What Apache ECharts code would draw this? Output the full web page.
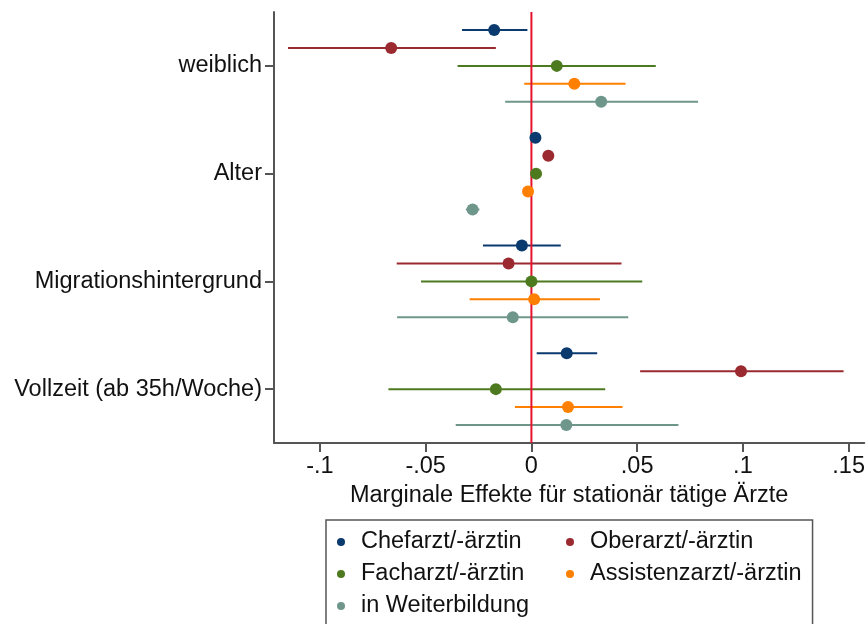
<!DOCTYPE html>
<html>
<head>
<meta charset="utf-8">
<script src="https://cdn.jsdelivr.net/npm/echarts@6/dist/echarts.min.js"></script>
<style>
  html, body { margin: 0; padding: 0; background: #fff; }
  #chart { width: 868px; height: 624px; }
</style>
</head>
<body>
<div id="chart"></div>
<script>
// Covariates shown on the vertical axis (top to bottom)
var categories = ['weiblich', 'Alter', 'Migrationshintergrund', 'Vollzeit (ab 35h/Woche)'];

// Physician groups (one series each)
var roles = ['Chefarzt/-ärztin', 'Oberarzt/-ärztin', 'Facharzt/-ärztin', 'Assistenzarzt/-ärztin', 'in Weiterbildung'];

// Marginal effects per covariate (same order as categories)
var chefEst = [-0.0176, 0.0019, -0.0045, 0.0167];
var chefLo  = [-0.0328, 0.0004, -0.0229, 0.0025];
var chefHi  = [-0.0019, 0.0034,  0.0139, 0.0311];

var oberEst = [-0.0663, 0.0080, -0.0108, 0.0991];
var oberLo  = [-0.1151, 0.0064, -0.0637, 0.0514];
var oberHi  = [-0.0168, 0.0096,  0.0426, 0.1476];

var fachEst = [ 0.0120, 0.0022,  0.0000, -0.0168];
var fachLo  = [-0.0349, 0.0006, -0.0522, -0.0676];
var fachHi  = [ 0.0588, 0.0038,  0.0524,  0.0349];

var assistEst = [ 0.0203, -0.0016,  0.0013,  0.0173];
var assistLo  = [-0.0034, -0.0031, -0.0292, -0.0078];
var assistHi  = [ 0.0445, -0.0001,  0.0324,  0.0431];

var weiterEst = [ 0.0330, -0.0278, -0.0088,  0.0165];
var weiterLo  = [-0.0124, -0.0310, -0.0635, -0.0358];
var weiterHi  = [ 0.0788, -0.0246,  0.0458,  0.0695];

// X axis ticks and their labels
var xTicks = [-0.1, -0.05, 0, 0.05, 0.1, 0.15];
var xTickLabels = ['-.1', '-.05', '0', '.05', '.1', '.15'];

// Reference line
var zeroLine = 0;

var colors = ['#0b3a6e', '#9a2a30', '#4d7a1f', '#ff8000', '#6e968a'];
var estimates = [chefEst, oberEst, fachEst, assistEst, weiterEst];
var lows = [chefLo, oberLo, fachLo, assistLo, weiterLo];
var highs = [chefHi, oberHi, fachHi, assistHi, weiterHi];

// Each covariate occupies 6 rows; the five groups are stacked inside
var ROWS_PER_GROUP = 6;
function rowOf(catIdx, roleIdx) { return catIdx * ROWS_PER_GROUP + 1 + roleIdx; }
var catCenters = categories.map(function (c, i) { return i * ROWS_PER_GROUP + 3; });

var FONT = '"Liberation Sans", Arial, sans-serif';
var FS = 23.5;

var series = [];
roles.forEach(function (role, r) {
  var ciData = categories.map(function (c, i) { return [lows[r][i], highs[r][i], rowOf(i, r)]; });
  var ptData = categories.map(function (c, i) { return [estimates[r][i], rowOf(i, r)]; });
  series.push({
    name: role + ' KI',
    type: 'custom',
    z: 2,
    silent: true,
    data: ciData,
    encode: { x: [0, 1], y: 2 },
    renderItem: function (params, api) {
      var a = api.coord([api.value(0), api.value(2)]);
      var b = api.coord([api.value(1), api.value(2)]);
      return {
        type: 'line',
        shape: { x1: a[0], y1: a[1], x2: b[0], y2: b[1] },
        style: { stroke: colors[r], lineWidth: 2 }
      };
    }
  });
  series.push({
    name: role,
    type: 'scatter',
    z: 4,
    symbol: 'circle',
    symbolSize: 12,
    itemStyle: { color: colors[r], opacity: 1 },
    data: ptData
  });
});

series.push({
  name: 'Nulllinie',
  type: 'custom',
  z: 3,
  silent: true,
  data: [[zeroLine]],
  renderItem: function (params, api) {
    var a = api.coord([api.value(0), 0]);
    var b = api.coord([api.value(0), categories.length * ROWS_PER_GROUP]);
    return {
      type: 'line',
      shape: { x1: a[0], y1: a[1], x2: b[0], y2: b[1] },
      style: { stroke: '#e5132f', lineWidth: 2 }
    };
  }
});

var chart = echarts.init(document.getElementById('chart'), null, { renderer: 'canvas' });
chart.setOption({
  animation: false,
  backgroundColor: '#ffffff',
  color: colors,
  textStyle: { fontFamily: FONT },
  grid: { left: 274, right: 2, top: 12, bottom: 181, containLabel: false },
  xAxis: {
    type: 'value',
    position: 'bottom',
    min: -0.1217,
    max: 0.1574,
    name: 'Marginale Effekte für stationär tätige Ärzte',
    nameLocation: 'middle',
    nameGap: 38,
    nameTextStyle: { fontSize: FS, color: '#111', fontFamily: FONT },
    axisLine: { show: true, onZero: false, lineStyle: { color: '#555', width: 2 } },
    axisTick: { show: true, length: 9, lineStyle: { color: '#555', width: 2 }, customValues: xTicks },
    axisLabel: {
      fontSize: FS, color: '#111', fontFamily: FONT, margin: 12,
      customValues: xTicks,
      formatter: function (v) {
        for (var i = 0; i < xTicks.length; i++) {
          if (Math.abs(xTicks[i] - v) < 1e-9) return xTickLabels[i];
        }
        return '';
      }
    },
    splitLine: { show: false }
  },
  yAxis: {
    type: 'value',
    position: 'left',
    inverse: true,
    min: 0,
    max: categories.length * ROWS_PER_GROUP,
    axisLine: { show: true, onZero: false, lineStyle: { color: '#555', width: 2 } },
    axisTick: { show: true, length: 9, lineStyle: { color: '#555', width: 2 }, customValues: catCenters },
    axisLabel: {
      fontSize: FS, color: '#111', fontFamily: FONT, margin: 12,
      customValues: catCenters,
      formatter: function (v) {
        var idx = catCenters.indexOf(v);
        return idx >= 0 ? categories[idx] : '';
      }
    },
    splitLine: { show: false }
  },
  legend: {
    data: roles,
    left: 326,
    top: 520,
    width: 560,
    orient: 'horizontal',
    icon: 'circle',
    itemWidth: 8,
    itemHeight: 8,
    itemGap: 8,
    padding: [10, 11, 12, 11],
    borderColor: '#555',
    borderWidth: 1.5,
    selectedMode: false,
    textStyle: { fontSize: FS, color: '#111', fontFamily: FONT, width: 197, lineHeight: 24, padding: [0, 0, 0, 11] }
  },
  series: series
});
</script>
</body>
</html>
